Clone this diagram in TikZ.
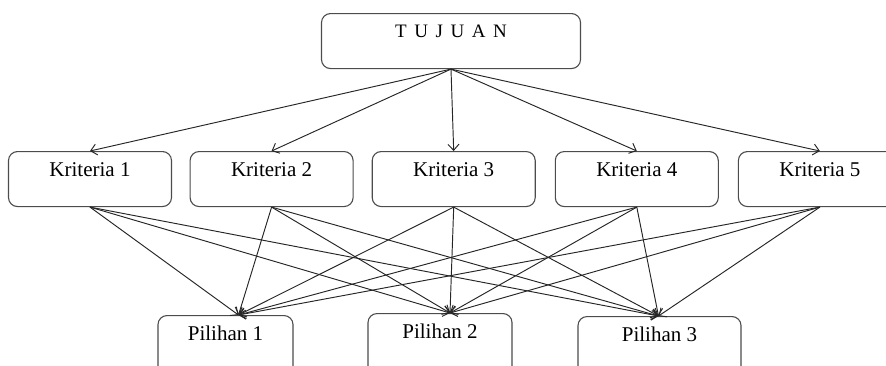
\documentclass[tikz,border=0pt]{standalone}
\usepackage{fontspec}
\setmainfont{Liberation Serif}
\usetikzlibrary{arrows.meta,positioning}

\begin{document}
\begin{tikzpicture}[
  x=1pt,y=-1pt,
  >={Straight Barb[length=6pt,width=11pt]},
  kotak/.style={draw=black!70,line width=1.1pt,rounded corners=9pt,anchor=north,
    font=\fontsize{21}{25}\selectfont,inner xsep=0pt,inner ysep=4pt,
    text height=21pt,text depth=26pt,minimum width=163pt},
  pilihan/.style={kotak,text depth=60pt},
  panah/.style={->,line width=0.95pt,draw=black!85}
]
\useasboundingbox (0,0) rectangle (886,365);

\node[kotak,minimum width=259pt,font=\fontsize{19}{23}\selectfont,
  text height=20pt,text depth=27pt] (tujuan) at (451,13) {\spaceskip=0.4em T U J U A N};

\node[kotak] (k1) at (90,151) {Kriteria 1};
\node[kotak,right=17.5pt of k1] (k2) {Kriteria 2};
\node[kotak,right=18pt of k2] (k3) {Kriteria 3};
\node[kotak,right=19pt of k3] (k4) {Kriteria 4};
\node[kotak,right=19pt of k4] (k5) {Kriteria 5};

\node[pilihan,minimum width=135pt] (p1) at (225.5,315) {Pilihan 1};
\node[pilihan,minimum width=144pt] (p2) at (440,313) {Pilihan 2};
\node[pilihan,minimum width=163pt] (p3) at (659.5,316) {Pilihan 3};

% tujuan ke kriteria
\foreach \k in {1,...,5}
  \draw[panah] (tujuan.south) -- (k\k.north);

% kriteria ke pilihan
\foreach \k in {1,...,5}
  \foreach \p/\dx in {1/13,2/10,3/-1}
    \draw[panah] (k\k.south) -- ([xshift=\dx pt]p\p.north);
\end{tikzpicture}
\end{document}
